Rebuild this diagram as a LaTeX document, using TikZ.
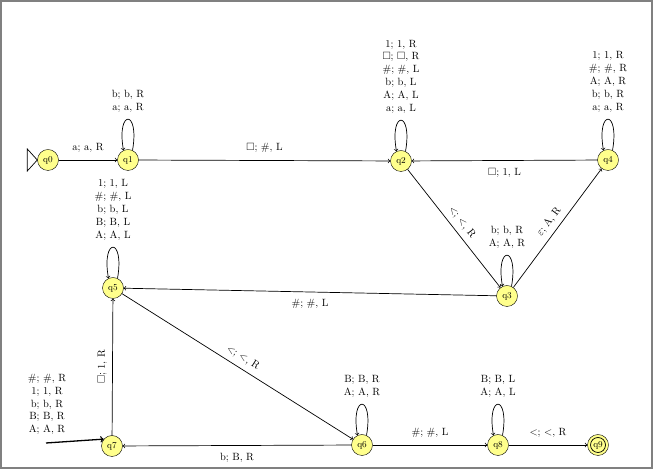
\documentclass[tikz,border=0pt]{standalone}
\usepackage{amsmath,amssymb}
\usepackage{fontspec}
\usepackage{tikz}
\usetikzlibrary{arrows,positioning}
\definecolor{stateyellow}{RGB}{255,255,140}
\definecolor{framegray}{RGB}{128,128,128}
\newcommand{\blank}{$\square$}

\begin{document}
\begin{tikzpicture}[x=1pt,y=1pt,
  state/.style={circle,draw,fill=stateyellow,minimum size=21pt,inner sep=0pt,font=\small},
  trans/.style={->,line width=0.7pt},
  lbl/.style={align=center,inner sep=1pt,font=\fontsize{10.5}{12.8}\selectfont},
  every node/.append style={font=\fontsize{10.5}{12.8}\selectfont}]
 \useasboundingbox (0,0) rectangle (658,470);
 \draw[framegray,line width=1.5pt] (1,2) rectangle (652,469);
 % states
 \node[state] (q0) at (48,310)  {q0};
 \node[state] (q1) at (128,310) {q1};
 \node[state] (q2) at (401,309) {q2};
 \node[state] (q4) at (608,310) {q4};
 \node[state] (q3) at (507,174) {q3};
 \node[state] (q5) at (113,182) {q5};
 \node[state] (q7) at (112,24)  {q7};
 \node[state] (q6) at (362,25)  {q6};
 \node[state] (q8) at (498,25)  {q8};
 \node[state] (q9) at (598,25)  {q9};
 \draw[line width=0.7pt] (q9.center) circle[radius=7.5pt];
 % start
 \draw[fill=white,line width=0.7pt] (q0.west) -- ++(-10,11) -- ++(0,-22) -- cycle;
 % transitions
 \draw[trans] (q0) -- node[above=4pt] {a; a, R} (q1);
 \draw[trans] (q1) -- node[above=4pt] {\blank; \#, L} (q2);
 \draw[trans] (q4) -- node[below=4pt] {\blank; 1, L} (q2);
 \draw[trans] (q2) -- node[sloped,above=2pt] {<; <, R} (q3);
 \draw[trans] (q3) -- node[sloped,above=2pt] {$\varepsilon$; A, R} (q4);
 \draw[trans] (q3) -- node[below=4pt] {\#; \#, L} (q5);
 \draw[trans] (q5) -- node[sloped,above=2pt] {<; <, R} (q6);
 \draw[trans] (q7) -- node[sloped,above=2pt] {\blank; 1, R} (q5);
 \draw[trans] (q6) -- node[below=4pt] {b; B, R} (q7);
 \draw[trans] (q6) -- node[above=4pt] {\#; \#, L} (q8);
 \draw[trans] (q8) -- node[above=4pt] {<; <, R} (q9);
 % loops
 \draw[trans] (q1.65) .. controls +(80:42) and +(100:42) .. (q1.115);
 \node[lbl,above=36pt of q1] {b; b, R\\a; a, R};
 \draw[trans] (q2.65) .. controls +(80:42) and +(100:42) .. (q2.115);
 \node[lbl,above=36pt of q2] {1; 1, R\\\blank; \blank, R\\\#; \#, L\\b; b, L\\A; A, L\\a; a, L};
 \draw[trans] (q4.65) .. controls +(80:42) and +(100:42) .. (q4.115);
 \node[lbl,above=36pt of q4] {1; 1, R\\\#; \#, R\\A; A, R\\b; b, R\\a; a, R};
 \draw[trans] (q3.65) .. controls +(80:42) and +(100:42) .. (q3.115);
 \node[lbl,above=36pt of q3] {b; b, R\\A; A, R};
 \draw[trans] (q5.65) .. controls +(80:42) and +(100:42) .. (q5.115);
 \node[lbl,above=36pt of q5] {1; 1, L\\\#; \#, L\\b; b, L\\B; B, L\\A; A, L};
 \draw[trans] (q6.65) .. controls +(80:42) and +(100:42) .. (q6.115);
 \node[lbl,above=36pt of q6] {B; B, R\\A; A, R};
 \draw[trans] (q8.65) .. controls +(80:42) and +(100:42) .. (q8.115);
 \node[lbl,above=36pt of q8] {B; B, L\\A; A, L};
 \coordinate (q7loop) at (46,27);
 \draw[trans,line width=1.3pt] (q7loop) -- (q7.140);
 \node[lbl,anchor=south] (q7lbl) at (47,34) {\#; \#, R\\1; 1, R\\b; b, R\\B; B, R\\A; A, R};
\end{tikzpicture}
\end{document}
